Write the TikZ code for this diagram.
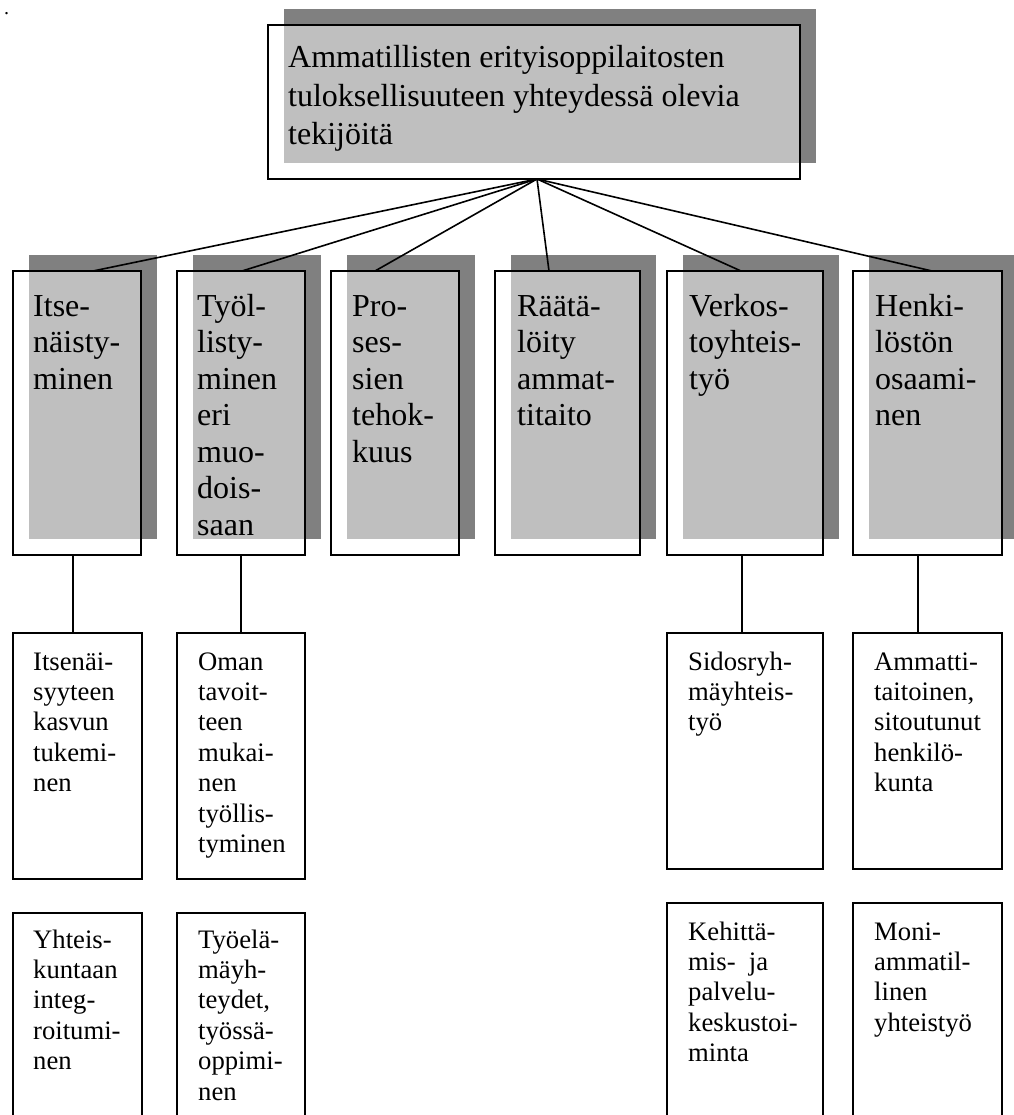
\documentclass[tikz,border=0pt]{standalone}
\usepackage{fontspec}
\setmainfont{Liberation Serif}
\usetikzlibrary{calc}
\pgfdeclarelayer{paper}
\pgfdeclarelayer{shade}
\pgfsetlayers{paper,shade,main}
\definecolor{shadowgray}{HTML}{808080}

\begin{document}
\begin{tikzpicture}[x=1pt,y=-1pt,
  box/.style={draw=black, line width=1.6pt, fill=white, fill opacity=0.5,
    inner sep=0pt, outer sep=0pt, anchor=north west},
  bigtext/.style={anchor=base west, inner sep=0pt,
    font=\fontsize{32}{36.5}\selectfont},
  headtext/.style={anchor=base west, inner sep=0pt,
    font=\fontsize{32}{38.5}\selectfont},
  smalltext/.style={anchor=base west, inner sep=0pt,
    font=\fontsize{26.67}{30.4}\selectfont},
  link/.style={draw=black, line width=1.6pt},
  shadowfill/.style={fill=shadowgray}]

\useasboundingbox (0,0) rectangle (1013,1115);
\begin{pgfonlayer}{paper}
  \fill[white] (0,0) rectangle (1013,1115);
\end{pgfonlayer}

\node[anchor=base west, inner sep=0pt, font=\fontsize{20}{20}\selectfont] (mark) at (4,15) {.};

% main heading box
\node[box, minimum width=532, minimum height=154] (top) at (268,25) {};
\node[headtext] (toptext) at (288,68) {\parbox[t]{520pt}{\raggedright
  Ammatillisten erityisoppilaitosten\\tuloksellisuuteen yhteydessä olevia\\tekijöitä}};

% six factor boxes
\node[box, minimum width=128, minimum height=284] (b1) at (13,271) {};
\node[box, minimum width=128, minimum height=284] (b2) at (177,271) {};
\node[box, minimum width=128, minimum height=284] (b3) at (331,271) {};
\node[box, minimum width=145, minimum height=284] (b4) at (495,271) {};
\node[box, minimum width=156, minimum height=284] (b5) at (667,271) {};
\node[box, minimum width=149, minimum height=284] (b6) at (853,271) {};

\node[bigtext] (t1) at (33,316) {\parbox[t]{150pt}{\raggedright Itse-\\näisty-\\minen}};
\node[bigtext] (t2) at (197,316) {\parbox[t]{150pt}{\raggedright Työl-\\listy-\\minen\\eri\\muo-\\dois-\\saan}};
\node[bigtext] (t3) at (352,316) {\parbox[t]{150pt}{\raggedright Pro-\\ses-\\sien\\tehok-\\kuus}};
\node[bigtext] (t4) at (517,316) {\parbox[t]{150pt}{\raggedright Räätä-\\löity\\ammat-\\titaito}};
\node[bigtext] (t5) at (689,316) {\parbox[t]{150pt}{\raggedright Verkos-\\toyhteis-\\työ}};
\node[bigtext] (t6) at (875,316) {\parbox[t]{150pt}{\raggedright Henki-\\löstön\\osaami-\\nen}};

% sub-factor boxes, first row
\node[box, minimum width=129, minimum height=246] (c1) at (13,633) {};
\node[box, minimum width=128, minimum height=246] (c2) at (177,633) {};
\node[box, minimum width=156, minimum height=236] (c5) at (667,633) {};
\node[box, minimum width=149, minimum height=236] (c6) at (853,633) {};

\node[smalltext] (s1) at (33,670) {\parbox[t]{150pt}{\raggedright Itsenäi-\\syyteen\\kasvun\\tukemi-\\nen}};
\node[smalltext] (s2) at (198,670) {\parbox[t]{150pt}{\raggedright Oman\\tavoit-\\teen\\mukai-\\nen\\työllis-\\tyminen}};
\node[smalltext] (s5) at (688,670) {\parbox[t]{150pt}{\raggedright Sidosryh-\\mäyhteis-\\työ}};
\node[smalltext] (s6) at (874,670) {\parbox[t]{150pt}{\raggedright Ammatti-\\taitoinen,\\sitoutunut\\henkilö-\\kunta}};

% sub-factor boxes, second row (running off the lower edge)
\node[box, minimum width=129, minimum height=240] (d1) at (13,913) {};
\node[box, minimum width=128, minimum height=240] (d2) at (177,913) {};
\node[box, minimum width=156, minimum height=250] (d5) at (667,903) {};
\node[box, minimum width=149, minimum height=250] (d6) at (853,903) {};

\node[smalltext] (u1) at (33,948) {\parbox[t]{150pt}{\raggedright Yhteis-\\kuntaan\\integ-\\roitumi-\\nen}};
\node[smalltext] (u2) at (198,948) {\parbox[t]{150pt}{\raggedright Työelä-\\mäyh-\\teydet,\\työssä-\\oppimi-\\nen}};
\node[smalltext] (u5) at (688,940) {\parbox[t]{150pt}{\raggedright Kehittä-\\mis-\ \ ja\\palvelu-\\keskustoi-\\minta}};
\node[smalltext] (u6) at (874,940) {\parbox[t]{150pt}{\raggedright Moni-\\ammatil-\\linen\\yhteistyö}};

% drop shadows behind the heading and factor boxes
\begin{pgfonlayer}{shade}
  \foreach \n in {top,b1,b2,b3,b4,b5,b6}
    \fill[shadowfill] ($(\n.north west)+(16,-16)$) rectangle ($(\n.south east)+(16,-16)$);
\end{pgfonlayer}

% fan-out from the heading
\coordinate (hub) at ($(top.south)+(3,0)$);
\draw[link] (hub) -- ($(b1.north west)+(80,0)$);
\draw[link] (hub) -- ($(b2.north west)+(65,0)$);
\draw[link] (hub) -- ($(b3.north west)+(44,0)$);
\draw[link] (hub) -- ($(b4.north west)+(54,0)$);
\draw[link] (hub) -- ($(b5.north west)+(74,0)$);
\draw[link] (hub) -- ($(b6.north west)+(79,0)$);

% drops to the sub-factors
\draw[link] ($(b1.south west)+(60,0)$) -- ($(c1.north west)+(60,0)$);
\draw[link] ($(b2.south west)+(64,0)$) -- ($(c2.north west)+(64,0)$);
\draw[link] ($(b5.south west)+(75,0)$) -- ($(c5.north west)+(75,0)$);
\draw[link] ($(b6.south west)+(65,0)$) -- ($(c6.north west)+(65,0)$);
\end{tikzpicture}
\end{document}
